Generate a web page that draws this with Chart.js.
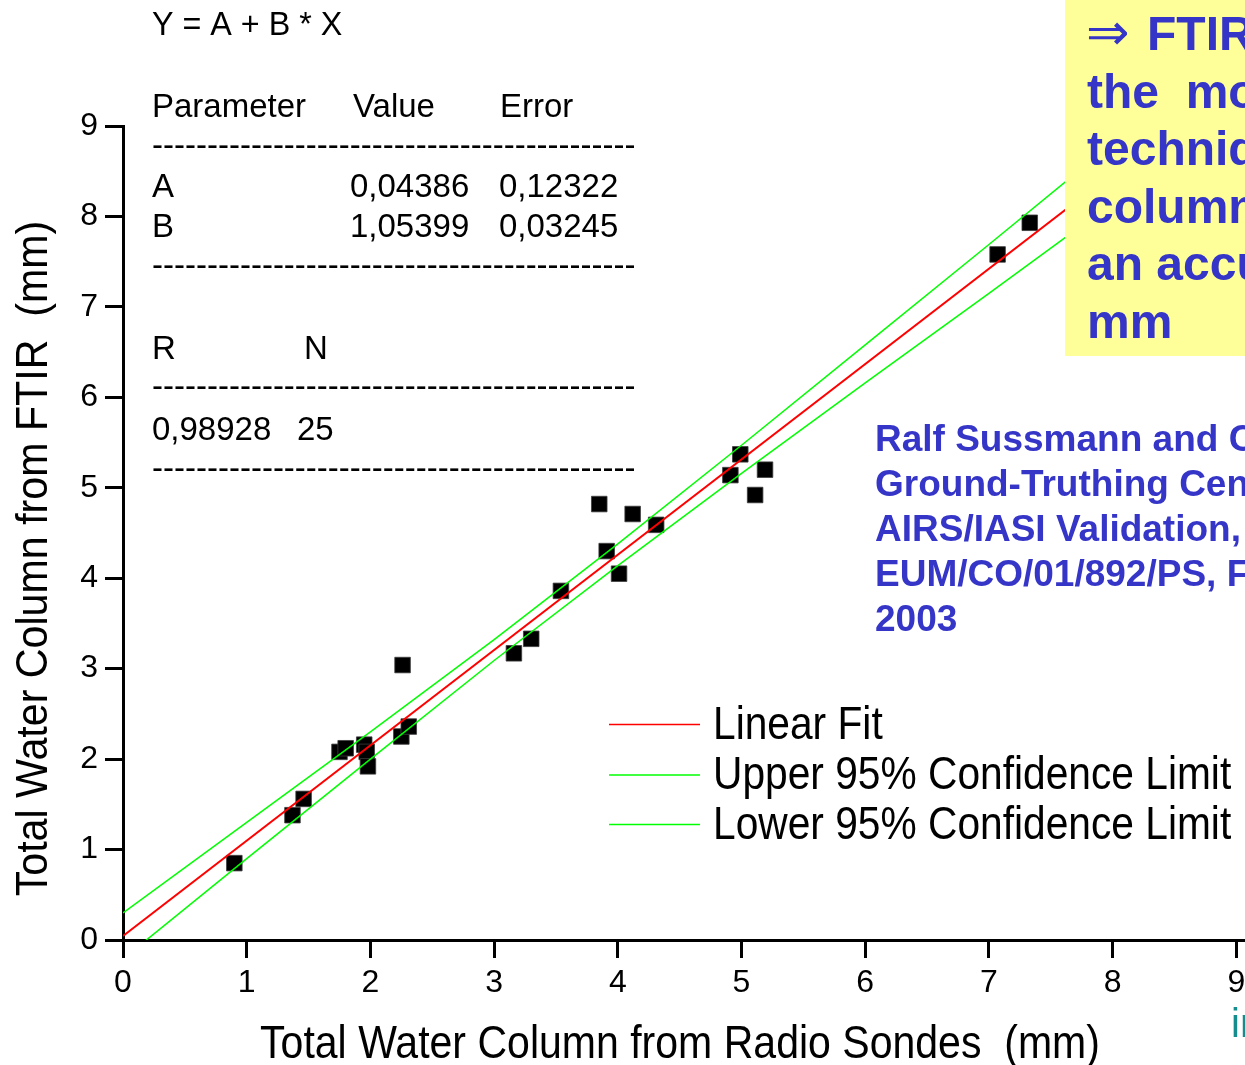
<!DOCTYPE html>
<html>
<head>
<meta charset="utf-8">
<script src="https://cdn.jsdelivr.net/npm/chart.js@4.4.0/dist/chart.umd.min.js"></script>
<style>
  html, body { margin: 0; padding: 0; background: #fff; overflow: hidden; }
  /* the x axis runs on past the right edge, so the canvas is a bit wider than the page */
  #wrap { position: relative; width: 1245px; height: 1065px; overflow: hidden; }
</style>
</head>
<body>
<div id="wrap"><canvas id="fitChart" width="1257" height="1065"></canvas></div>
<script>
// total water column, radio sondes (x) vs FTIR (y), mm
const sondeColumn = [0.90, 1.37, 1.46, 1.75, 1.80, 1.95, 1.97, 1.98, 2.26, 2.25, 2.31, 3.16, 3.30,
                     3.54, 3.85, 3.91, 4.01, 4.12, 4.31, 4.91, 4.99, 5.11, 5.19, 7.07, 7.33];
const ftirColumn  = [0.85, 1.38, 1.56, 2.08, 2.12, 2.16, 2.08, 1.92, 3.04, 2.25, 2.36, 3.17, 3.33,
                     3.86, 4.82, 4.30, 4.05, 4.71, 4.59, 5.14, 5.37, 4.92, 5.20, 7.58, 7.93];

// Y = A + B * X
const fitA = 0.04386;
const fitB = 1.05399;
const fitX = [0, 9];

// 95% confidence limits
const bandX      = [0, 1, 2, 3, 4, 5, 6, 7, 8, 9];
const upperLimit = [0.30, 1.30, 2.30, 3.32, 4.38, 5.47, 6.58, 7.69, 8.81, 9.92];
const lowerLimit = [-0.21, 0.90, 2.00, 3.09, 4.14, 5.16, 6.16, 7.15, 8.15, 9.14];

const xTicks = [0, 1, 2, 3, 4, 5, 6, 7, 8, 9];
const yTicks = [0, 1, 2, 3, 4, 5, 6, 7, 8, 9];

const SANS = "'Liberation Sans', Arial, sans-serif";

function put(ctx, text, x, y, font, color, sx = 1, align = 'left') {
  ctx.save();
  ctx.font = font;
  ctx.fillStyle = color;
  ctx.textAlign = align;
  ctx.textBaseline = 'alphabetic';
  ctx.translate(x, y);
  ctx.scale(sx, 1);
  ctx.fillText(text, 0, 0);
  ctx.restore();
}

// fit table, legend, axis titles and side notes
const annotations = {
  id: 'annotations',
  afterDraw(chart) {
    const ctx = chart.ctx;
    const f33 = '33px ' + SANS;
    const dashes = '-'.repeat(44);

    put(ctx, 'Y = A + B * X', 152, 35, '34px ' + SANS, '#000', 0.95);
    put(ctx, 'Parameter', 152, 117, f33, '#000');
    put(ctx, 'Value', 353, 117, f33, '#000');
    put(ctx, 'Error', 500, 117, f33, '#000');
    put(ctx, dashes, 152, 156, f33, '#000');
    put(ctx, 'A', 152, 197, f33, '#000');
    put(ctx, fitA.toFixed(5).replace('.', ','), 350, 197, f33, '#000');
    put(ctx, '0,12322', 499, 197, f33, '#000');
    put(ctx, 'B', 152, 237, f33, '#000');
    put(ctx, fitB.toFixed(5).replace('.', ','), 350, 237, f33, '#000');
    put(ctx, '0,03245', 499, 237, f33, '#000');
    put(ctx, dashes, 152, 276, f33, '#000');
    put(ctx, 'R', 152, 359, f33, '#000');
    put(ctx, 'N', 304, 359, f33, '#000');
    put(ctx, dashes, 152, 397, f33, '#000');
    put(ctx, '0,98928', 152, 440, f33, '#000');
    put(ctx, String(sondeColumn.length), 297, 440, f33, '#000');
    put(ctx, dashes, 152, 479, f33, '#000');

    // legend for the three lines
    const rows = [[724.5, 739], [775, 789], [824.5, 838.5]];
    chart.data.datasets.slice(0, 3).forEach((ds, i) => {
      ctx.save();
      ctx.strokeStyle = ds.borderColor;
      ctx.lineWidth = 1.5;
      ctx.beginPath();
      ctx.moveTo(609, rows[i][0]);
      ctx.lineTo(700, rows[i][0]);
      ctx.stroke();
      ctx.restore();
      put(ctx, ds.label, 713, rows[i][1], '46px ' + SANS, '#000', 0.885);
    });

    // axis titles
    put(ctx, 'Total Water Column from Radio Sondes  (mm)', 680, 1058, '46px ' + SANS, '#000', 0.892, 'center');
    ctx.save();
    ctx.translate(47, 558.5);
    ctx.rotate(-Math.PI / 2);
    put(ctx, 'Total Water Column from FTIR  (mm)', 0, 0, '45px ' + SANS, '#000', 0.915, 'center');
    ctx.restore();

    // highlighted note, top right
    ctx.fillStyle = '#ffff99';
    ctx.fillRect(1065, 0, 192, 356);
    const blue = '#3535c8';
    put(ctx, '\u21D2', 1086, 50, '52px DejaVu Sans', blue);
    const note = ['FTIR is', 'the  most', 'technique', 'column', 'an accuracy', 'mm'];
    note.forEach((t, i) => put(ctx, t, i ? 1087 : 1147, 50 + i * 57.5, 'bold 48px ' + SANS, blue));

    const ref = ['Ralf Sussmann and Co', 'Ground-Truthing Center', 'AIRS/IASI Validation,',
                 'EUM/CO/01/892/PS, Final', '2003'];
    ref.forEach((t, i) => put(ctx, t, 875, 451 + i * 45, 'bold 37px ' + SANS, blue));

    put(ctx, 'in', 1231, 1037, '40px ' + SANS, '#178c8c');
  }
};

const tickFont = { family: SANS, size: 32 };

new Chart(document.getElementById('fitChart'), {
  type: 'scatter',
  data: {
    datasets: [
      {
        type: 'line',
        label: 'Linear Fit',
        data: fitX.map(x => ({ x: x, y: fitA + fitB * x })),
        borderColor: '#ff0000',
        borderWidth: 2,
        pointRadius: 0,
        fill: false
      },
      {
        type: 'line',
        label: 'Upper 95% Confidence Limit',
        data: bandX.map((x, i) => ({ x: x, y: upperLimit[i] })),
        borderColor: '#00ff00',
        borderWidth: 1.5,
        pointRadius: 0,
        fill: false
      },
      {
        type: 'line',
        label: 'Lower 95% Confidence Limit',
        data: bandX.map((x, i) => ({ x: x, y: lowerLimit[i] })),
        borderColor: '#00ff00',
        borderWidth: 1.5,
        pointRadius: 0,
        fill: false
      },
      {
        label: 'Data',
        data: sondeColumn.map((x, i) => ({ x: x, y: ftirColumn[i] })),
        pointStyle: 'rect',
        pointRadius: 11,
        backgroundColor: '#000',
        borderColor: 'rgba(60,60,60,0.8)',
        borderWidth: 1
      }
    ]
  },
  options: {
    responsive: false,
    animation: false,
    events: [],
    layout: { padding: { top: 126, right: 0, bottom: 0, left: 0 } },
    plugins: {
      legend: { display: false },
      tooltip: { enabled: false }
    },
    scales: {
      x: {
        type: 'linear',
        min: 0,
        max: 9.07,
        afterBuildTicks: s => { s.ticks = xTicks.map(v => ({ value: v })); },
        afterFit: s => { s.height = 125; },
        ticks: { font: tickFont, color: '#000', padding: 6, maxRotation: 0, autoSkip: false },
        grid: { drawOnChartArea: false, drawTicks: true, tickLength: 18, color: '#000', lineWidth: 3 },
        border: { display: true, color: '#000', width: 3 }
      },
      y: {
        type: 'linear',
        min: 0,
        max: 9,
        afterBuildTicks: s => { s.ticks = yTicks.map(v => ({ value: v })); },
        afterFit: s => { s.width = 123; },
        ticks: { font: tickFont, color: '#000', padding: 7, autoSkip: false },
        grid: { drawOnChartArea: false, drawTicks: true, tickLength: 18, color: '#000', lineWidth: 3 },
        border: { display: true, color: '#000', width: 3 }
      }
    }
  },
  plugins: [annotations]
});
</script>
</body>
</html>
